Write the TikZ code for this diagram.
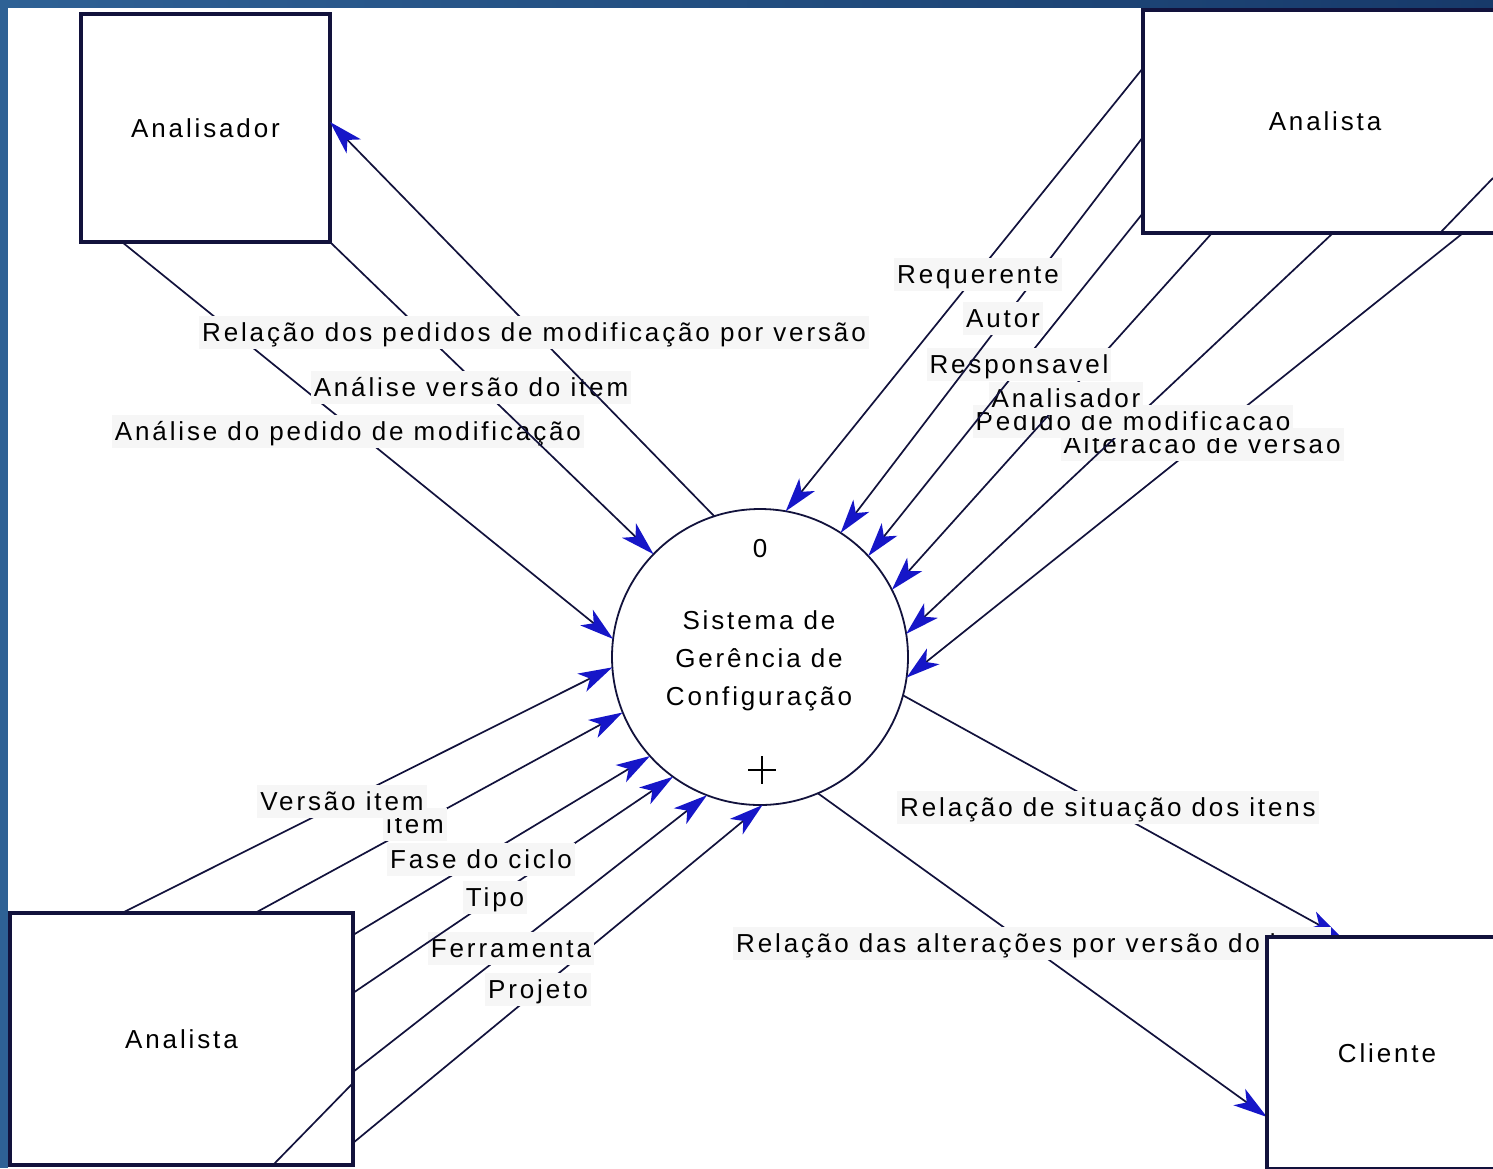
\documentclass[tikz,border=0pt]{standalone}
\usepackage{fontspec}
\usetikzlibrary{arrows.meta}
\newfontfamily\labfont[LetterSpace=11]{Liberation Sans}
\newcommand{\dfdfont}{\labfont\fontsize{26}{31}\selectfont}
\newcommand{\dfdprocfont}{\labfont\fontsize{26}{38}\selectfont}
\definecolor{framec}{RGB}{46,97,149}
\definecolor{framed}{RGB}{23,58,106}
\definecolor{linec}{RGB}{18,18,60}
\definecolor{arrowc}{RGB}{22,22,200}
\definecolor{lblbg}{RGB}{246,246,246}
\begin{document}
\begin{tikzpicture}[x=1pt,y=-1pt,
  ent/.style={draw=linec, line width=3.2pt, fill=white, inner sep=0pt, outer sep=0pt, font=\dfdfont},
  flow/.style={draw=linec, line width=1.7pt, -{Stealth[length=34pt,width=20pt,inset=9pt,color=arrowc]}},
  stray/.style={draw=linec, line width=1.7pt},
  lbl/.style={fill=lblbg, inner sep=3pt, text height=22pt, text depth=5pt, font=\dfdfont, anchor=base},
]
\useasboundingbox (0,0) rectangle (1493,1168);
\clip (0,0) rectangle (1493,1168);
\fill[white] (0,0) rectangle (1493,1168);

% entities and process
\node[ent, minimum width=249pt, minimum height=228pt] (anlz) at (205.5,128) {Analisador};
\node[ent, minimum width=364pt, minimum height=223pt] (atr) at (1325,121.5) {Analista};
\node[ent, minimum width=343pt, minimum height=252pt] (abl) at (181.5,1039) {Analista};
\node[minimum width=240pt, minimum height=232pt, inner sep=0pt, outer sep=0pt] (cli) at (1387,1053) {};
\node[circle, draw=linec, line width=1.8pt, fill=white, minimum size=296pt, inner sep=0pt, outer sep=0pt] (proc) at (760,657) {};
\node[font=\dfdprocfont, align=center] (ptxt) at (759,661) {Sistema de\\Gerência de\\Configuração};
\node[font=\dfdfont, anchor=base] (pnum) at (760,557) {0};
\draw[black, line width=1.2pt] (748,770) -- (776,770) (762,756) -- (762,784);

% upper left flows
\draw[flow] ([xshift=41pt]anlz.south west) -- (proc.173.4);
\node[lbl] (l3) at (348,440) {Análise do pedido de modificação};
\draw[flow] (anlz.south east) -- (proc.136.6);
\node[lbl] (l2) at (471,396) {Análise versão do item};
\draw[flow] (proc.108.6) -- ([yshift=6pt]anlz.east);
\node[lbl] (l1) at (534,341) {Relação dos pedidos de modificação por versão};

% upper right flows
\coordinate (s1) at (1493,178);
\draw[stray] (s1) -- ([xshift=297pt]atr.south west);
\draw[flow] ([xshift=320pt]atr.south west) -- (proc.-8.8);
\node[lbl] (lf) at (1202,453) {Alteracao de versao};
\draw[flow] ([xshift=190pt]atr.south west) -- (proc.9.2);
\node[lbl] (le) at (1133,430) {Pedido de modificacao};
\draw[flow] ([xshift=69pt]atr.south west) -- (proc.27.1);
\node[lbl] (ld) at (1066,407) {Analisador};
\draw[flow] ([yshift=20pt]atr.south west) -- (proc.43.7);
\node[lbl] (lc) at (1019,373) {Responsavel};
\draw[flow] ([yshift=-127pt]atr.north west) -- (proc.57.2);
\node[lbl] (lb) at (1003,327) {Autor};
\draw[flow] ([yshift=-58pt]atr.north west) -- (proc.80.2);
\node[lbl] (la) at (978,283) {Requerente};

% lower left flows
\draw[stray] ([xshift=263pt]abl.south west) -- ([yshift=82pt]abl.south east);
\draw[flow] ([yshift=22pt]abl.south east) -- (proc.271.1);
\node[lbl] (lF) at (538,998) {Projeto};
\draw[flow] ([yshift=-159pt]abl.north east) -- (proc.249.3);
\node[lbl] (lE) at (511,957) {Ferramenta};
\draw[flow] ([yshift=-80pt]abl.north east) -- (proc.234.1);
\node[lbl] (lD) at (495,906) {Tipo};
\draw[flow] ([yshift=-22pt]abl.north east) -- (proc.222.0);
\node[lbl] (lC) at (481,868) {Fase do ciclo};
\draw[flow] ([xshift=245pt]abl.north west) -- (proc.202.5);
\node[lbl] (lB) at (415,833) {item};
\draw[flow] ([xshift=112pt]abl.north west) -- (proc.184.2);
\node[lbl] (lA) at (342,810) {Versão item};

% lower right flows
\draw[flow] (proc.-15.1) -- ([xshift=74pt]cli.north west);
\node[lbl] (lm) at (1108,816) {Relação de situação dos itens};
\draw[flow] (proc.-67.3) -- ([yshift=-180pt]cli.north west);
\node[lbl, anchor=base west] (ln) at (733,952) {Relação das alterações por versão do item};
\node[ent, minimum width=240pt, minimum height=232pt] (clibox) at (cli) {Cliente};

% slide frame
\fill[framec] (0,0) rectangle (8,1168);
\shade[left color=framec, right color=framed] (0,0) rectangle (1493,7);
\end{tikzpicture}
\end{document}
